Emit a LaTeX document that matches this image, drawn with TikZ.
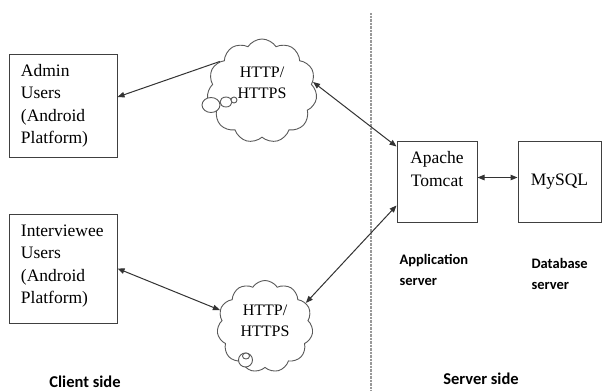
\documentclass[tikz,border=0pt]{standalone}
\usepackage{fontspec}
\setmainfont{Liberation Serif}
\newfontfamily\lblfont{Carlito}
\usetikzlibrary{shapes.symbols,arrows.meta}
\tikzset{
  box/.style={draw=black!75, line width=1pt, inner sep=0pt},
  boxtext/.style={font=\fontsize{17.5}{22.5}\selectfont},
  cloudnode/.style={cloud, draw=black!65, line width=0.9pt, cloud puffs=11, cloud puff arc=115, cloud ignores aspect, inner sep=0pt, font=\fontsize{16}{21}\selectfont},
  bubble/.style={draw=black!65, line width=0.9pt, fill=white},
  arr/.style={draw=black!80, line width=1pt},
  tip/.style={-{Triangle[length=7pt,width=5.5pt]}},
  dtip/.style={{Triangle[length=7pt,width=5.5pt]}-{Triangle[length=7pt,width=5.5pt]}},
  lbl/.style={font=\lblfont\bfseries\fontsize{14.5}{21}\selectfont, align=left},
  sidelbl/.style={font=\lblfont\bfseries\fontsize{16.5}{20}\selectfont},
}
\begin{document}
\begin{tikzpicture}[x=1pt,y=-1pt]
\useasboundingbox (0,0) rectangle (603,391);
\fill[white] (0,0) rectangle (603,391);
% divider
\draw[black!40, line width=1.2pt, dash pattern=on 0.7pt off 0.7pt] (371,13) -- (371,391);
% client boxes
\node[box, boxtext, minimum width=108pt, minimum height=103pt] (admin) at (63,105.5)
  {\begin{tabular}{@{\hspace{12pt}}p{96pt}@{}}Admin\\Users\\(Android\\Platform)\end{tabular}};
\node[box, boxtext, minimum width=108pt, minimum height=109pt] (inter) at (63,268.5)
  {\begin{tabular}{@{\hspace{12pt}}p{96pt}@{}}Interviewee\\Users\\(Android\\Platform)\\[6pt]\end{tabular}};
% server boxes
\node[box, boxtext, minimum width=80pt, minimum height=81pt] (tomcat) at (437,181.5)
  {\begin{tabular}{@{}c@{}}Apache\\Tomcat\\[22pt]\end{tabular}};
\node[box, boxtext, minimum width=83pt, minimum height=81pt] (mysql) at (559.5,181.5) {MySQL};
% clouds
\node[cloudnode, minimum width=110pt, minimum height=104pt] (c1) at (262,91)
  {\begin{tabular}{@{}c@{}}HTTP/\\HTTPS\\[14pt]\end{tabular}};
\draw[bubble] (211,105) ellipse (9pt and 7.5pt);
\draw[bubble] (226,102) ellipse (6pt and 5pt);
\draw[bubble] (234,100) circle (3pt);
\node[cloudnode, minimum width=96pt, minimum height=92pt] (c2) at (265,326.5)
  {\begin{tabular}{@{}c@{}}HTTP/\\HTTPS\\[10pt]\end{tabular}};
\draw[bubble] (245.5,360) circle (7pt);
\draw[bubble] (246,356) ellipse (3.5pt and 3pt);
% connectors
\draw[arr, tip] (c1.145) -- ([yshift=8.5pt]admin.east);
\draw[arr, dtip] (c1.10) -- ([yshift=-6pt]tomcat.north west);
\draw[arr, dtip] ([yshift=0pt]inter.east) -- (c2.160);
\draw[arr, dtip] ([yshift=17pt]tomcat.south west) -- (c2.30);
\draw[arr, dtip] ([yshift=4pt]tomcat.east) -- ([yshift=4pt]mysql.west);
% labels
\node[lbl, anchor=north west] (applbl) at (396,251) {Application\\server};
\node[lbl, anchor=north west] (dblbl) at (528,255) {Database\\server};
\node[sidelbl] (client) at (85,382) {Client side};
\node[sidelbl] (server) at (481,379) {Server side};
\end{tikzpicture}
\end{document}
